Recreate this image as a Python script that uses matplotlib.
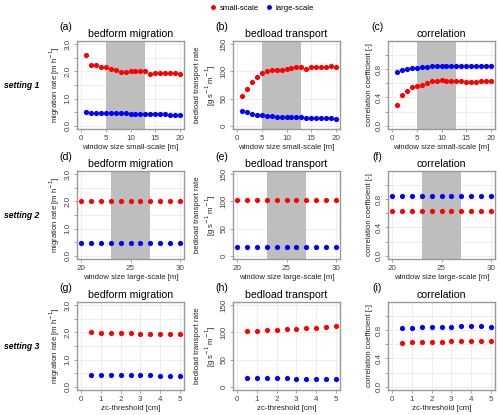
import numpy as np
import matplotlib
matplotlib.use("Agg")
import matplotlib.pyplot as plt
from matplotlib.lines import Line2D

plt.rcParams["font.family"] = ["Liberation Sans", "DejaVu Sans"]

# setting 1: window size small-scale [m]
ws_small = [1, 2, 3, 4, 5, 6, 7, 8, 9, 10, 11, 12, 13, 14, 15, 16, 17, 18, 19, 20]
mig_small_1 = [2.60, 2.25, 2.22, 2.17, 2.18, 2.10, 2.05, 1.99, 1.99, 2.00,
               2.01, 2.01, 2.00, 1.92, 1.96, 1.96, 1.96, 1.93, 1.96, 1.92]
mig_large_1 = [0.49, 0.48, 0.47, 0.47, 0.47, 0.47, 0.46, 0.46, 0.46, 0.44,
               0.44, 0.44, 0.44, 0.44, 0.44, 0.43, 0.43, 0.40, 0.40, 0.40]
bed_small_1 = [54, 68, 80, 89, 98, 100, 102, 102, 103, 105,
               107, 108, 108, 105, 109, 109, 109, 108, 110, 109]
bed_large_1 = [27, 25, 22, 20, 19, 18.5, 17.5, 17, 17, 16,
               16, 16, 16, 15, 15, 15, 15, 14, 14, 13]
cor_small_1 = [0.29, 0.44, 0.485, 0.54, 0.555, 0.58, 0.61, 0.63, 0.635, 0.64,
               0.635, 0.635, 0.63, 0.635, 0.62, 0.62, 0.62, 0.625, 0.635, 0.635]
cor_large_1 = [0.76, 0.78, 0.80, 0.81, 0.82, 0.83, 0.835, 0.84, 0.84, 0.845,
               0.845, 0.845, 0.845, 0.845, 0.845, 0.85, 0.85, 0.845, 0.845, 0.84]

# setting 2: window size large-scale [m]
ws_large = [20, 21, 22, 23, 24, 25, 26, 27, 28, 29, 30]
mig_small_2 = [2.00, 2.00, 2.00, 2.00, 2.00, 2.00, 2.00, 2.00, 2.00, 2.00, 2.00]
mig_large_2 = [0.46, 0.46, 0.46, 0.46, 0.46, 0.46, 0.46, 0.46, 0.46, 0.46, 0.46]
bed_small_2 = [102, 102, 102, 102, 102, 102, 102, 102, 102, 102, 102]
bed_large_2 = [16, 16, 16, 16, 16, 16, 16.5, 17, 17, 17, 17]
cor_small_2 = [0.63, 0.63, 0.63, 0.63, 0.63, 0.63, 0.63, 0.63, 0.63, 0.63, 0.63]
cor_large_2 = [0.84, 0.84, 0.84, 0.84, 0.84, 0.84, 0.84, 0.84, 0.84, 0.84, 0.84]

# setting 3: zc-threshold [cm]
zc = [0.5, 1.0, 1.5, 2.0, 2.5, 3.0, 3.5, 4.0, 4.5, 5.0]
mig_small_3 = [2.00, 1.99, 1.98, 1.99, 1.98, 1.94, 1.94, 1.93, 1.94, 1.94]
mig_large_3 = [0.45, 0.45, 0.45, 0.45, 0.45, 0.44, 0.42, 0.41, 0.41, 0.39]
bed_small_3 = [102, 103, 104, 105, 106, 106.5, 107.5, 108, 110, 111.5]
bed_large_3 = [16.8, 16, 16, 15.5, 15.5, 15, 14.5, 14, 14, 13.5]
cor_small_3 = [0.62, 0.635, 0.635, 0.635, 0.635, 0.64, 0.645, 0.645, 0.65, 0.645]
cor_large_3 = [0.83, 0.835, 0.84, 0.845, 0.845, 0.85, 0.855, 0.855, 0.855, 0.85]

shade_1 = (5, 13)
shade_2 = (23, 27)

titles = ["bedform migration", "bedload transport", "correlation"]
ylabels = ["migration rate [m h$^{-1}$]",
           "bedload transport rate\n[g s$^{-1}$ m$^{-1}$]",
           "correlation coefficient [-]"]
xlabels = ["window size small-scale [m]", "window size large-scale [m]", "zc-threshold [cm]"]
row_names = ["setting 1", "setting 2", "setting 3"]
letters = "abcdefghi"

W, H = 500, 415
fig = plt.figure(figsize=(W / 100, H / 100), dpi=100)

col_left = [77, 233, 388]
col_w = 107
row_top = [41, 171, 302]
row_h = 88

FRAME = "#9a9a9a"
TICKC = "#444444"


def ext(lo, hi):
    d = (hi - lo) * 0.04
    return lo - d, hi + d


def panel(r, c, x, ys, yl, shade, xlim, xticks):
    ax = fig.add_axes([col_left[c] / W, 1 - (row_top[r] + row_h) / H, col_w / W, row_h / H])
    if c == 0:
        ylim, yt, ylab = (0, 3), np.arange(0, 3.01, 0.5), [0, 1, 2, 3]
        fmt = "{:.1f}"
    elif c == 1:
        ylim, yt, ylab = (0, 150), [0, 50, 100, 150], [0, 50, 100, 150]
        fmt = "{:.0f}"
    else:
        ylim, yt, ylab = (0, 1.15), np.arange(0, 1.01, 0.2), [0, 0.4, 0.8]
        fmt = "{:.1f}"
    ax.set_xlim(*ext(*xlim))
    ax.set_ylim(*ext(*ylim))
    ax.set_xticks(xticks)
    ax.set_yticks(yt)
    ax.set_yticklabels([fmt.format(v) if any(abs(v - l) < 1e-9 for l in ylab) else "" for v in yt],
                       rotation=90, va="center")
    ax.grid(True, color="#ebebeb", lw=0.6)
    ax.set_axisbelow(True)
    if shade is not None:
        ax.axvspan(shade[0], shade[1], color="#bebebe", lw=0, zorder=1)
    ax.scatter(x, ys, s=14, color="red", lw=0, zorder=3)
    ax.scatter(x, yl, s=14, color="blue", lw=0, zorder=3)
    for sp in ax.spines.values():
        sp.set_color(FRAME)
        sp.set_linewidth(1.0)
    ax.tick_params(length=2.5, width=0.6, color=FRAME, labelsize=5.8,
                   labelcolor=TICKC, pad=1.5)
    ax.set_title(titles[c], fontsize=7.6, pad=3)
    ax.set_ylabel(ylabels[c], fontsize=5.6, labelpad=2, color="#222222")
    ax.set_xlabel(xlabels[r], fontsize=5.6, labelpad=2, color="#222222")
    ax.text(-0.1, 1.1, "(" + letters[r * 3 + c] + ")", transform=ax.transAxes,
            fontsize=7.6, ha="center", va="bottom")
    return ax


rows = [
    (ws_small, [(mig_small_1, mig_large_1), (bed_small_1, bed_large_1), (cor_small_1, cor_large_1)],
     shade_1, (0, 20), [0, 5, 10, 15, 20]),
    (ws_large, [(mig_small_2, mig_large_2), (bed_small_2, bed_large_2), (cor_small_2, cor_large_2)],
     shade_2, (20, 30), [20, 25, 30]),
    (zc, [(mig_small_3, mig_large_3), (bed_small_3, bed_large_3), (cor_small_3, cor_large_3)],
     None, (0, 5), [0, 1, 2, 3, 4, 5]),
]

for r, (x, series, shade, xlim, xticks) in enumerate(rows):
    for c, (ys, yl) in enumerate(series):
        panel(r, c, x, ys, yl, shade, xlim, xticks)
    fig.text(22 / W, 1 - (row_top[r] + row_h / 2) / H, row_names[r], fontsize=6.2,
             fontweight="bold", fontstyle="italic", ha="center", va="center")

handles = [Line2D([], [], ls="", marker="o", ms=2.5, color="red"),
           Line2D([], [], ls="", marker="o", ms=2.5, color="blue")]
fig.legend(handles, ["small-scale", "large-scale"], loc="center", ncol=2,
           bbox_to_anchor=(262 / W, 1 - 8 / H), frameon=False, fontsize=5.6,
           handlelength=0.8, handletextpad=0.4, columnspacing=1.0)

fig.savefig("out.png", dpi=100)
